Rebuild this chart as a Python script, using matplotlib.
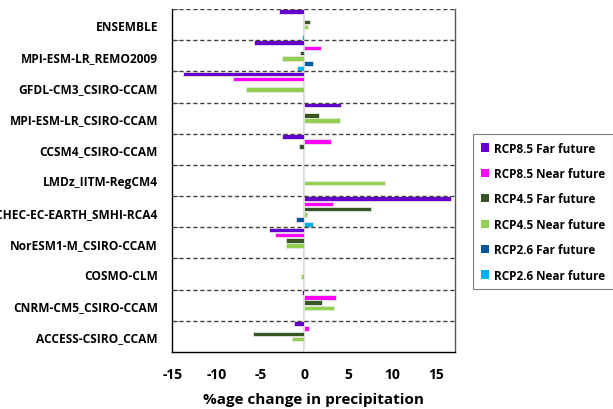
import numpy as np
import matplotlib.pyplot as plt
from matplotlib.patches import Patch

plt.rcParams['font.family'] = ['Open Sans', 'DejaVu Sans']
plt.rcParams['font.weight'] = 'bold'
plt.rcParams['axes.unicode_minus'] = False

# %% data (top to bottom)
models = [
    "ENSEMBLE",
    "MPI-ESM-LR_REMO2009",
    "GFDL-CM3_CSIRO-CCAM",
    "MPI-ESM-LR_CSIRO-CCAM",
    "CCSM4_CSIRO-CCAM",
    "LMDz_IITM-RegCM4",
    "ICHEC-EC-EARTH_SMHI-RCA4",
    "NorESM1-M_CSIRO-CCAM",
    "COSMO-CLM",
    "CNRM-CM5_CSIRO-CCAM",
    "ACCESS-CSIRO_CCAM",
]
rcp85_far = [-2.9, -5.7, -13.8, 4.2, -2.5, 0, 16.7, -4.0, 0, -0.25, -1.2]
rcp85_near = [-0.2, 1.9, -8.1, -0.2, 3.1, 0, 3.3, -3.4, 0, 3.6, 0.5]
rcp45_far = [0.6, -0.45, 0, 1.7, -0.6, 0, 7.6, -2.1, 0, 2.0, -5.9]
rcp45_near = [0.45, -2.5, -6.7, 4.1, 0, 9.2, 0.3, -2.1, -0.4, 3.4, -1.4]
rcp26_far = [0, 0.95, 0, 0, 0, 0, -0.9, 0, 0, 0, 0]
rcp26_near = [-0.3, -0.8, 0, 0, 0, 0, 0.95, 0, 0, 0, 0]

series = [
    ("RCP8.5 Far future", rcp85_far, "#6600CC"),
    ("RCP8.5 Near future", rcp85_near, "#FF00FF"),
    ("RCP4.5 Far future", rcp45_far, "#375623"),
    ("RCP4.5 Near future", rcp45_near, "#92D050"),
    ("RCP2.6 Far future", rcp26_far, "#005A9E"),
    ("RCP2.6 Near future", rcp26_near, "#00B0F0"),
]

# %% plot
fig = plt.figure(figsize=(6.13, 4.10), dpi=100)
ax = fig.add_axes([172 / 613, 1 - 353 / 410, (455 - 172) / 613, (353 - 10) / 410])

n = len(models)
slot = 1 / len(series)
for j, (name, vals, col) in enumerate(series):
    y = np.arange(n) + (j + 0.5) * slot
    ax.barh(y, vals, height=slot * 0.88, color=col,
            edgecolor="#e6e6e6", linewidth=0.6, zorder=3)

ax.axvline(0, color="#d9d9d9", lw=1.5, zorder=2)
for b in range(0, n):
    ax.axhline(b, color="#404040", lw=1.0, ls=(0, (3, 2)), zorder=4)

ax.set_ylim(n, 0)
ax.set_xlim(-15.1, 17.2)
ax.set_yticks(np.arange(n) + 0.5)
ax.set_yticklabels(models, fontsize=8.6, fontweight="bold")
ax.set_yticks(np.arange(n + 1), minor=True)
ax.tick_params(axis="y", which="major", length=0, pad=10)
ax.tick_params(axis="y", which="minor", length=4, direction="in", color="#404040")
ax.set_xticks([-15, -10, -5, 0, 5, 10, 15])
ax.tick_params(axis="x", length=0, labelsize=10, pad=11)
for lab in ax.get_xticklabels():
    lab.set_fontweight("bold")
ax.set_xlabel("%age change in precipitation", fontsize=11, fontweight="bold", labelpad=8)

ax.spines["top"].set_visible(False)
ax.spines["left"].set_color("black")
ax.spines["bottom"].set_color("black")
ax.spines["right"].set_color("#595959")
for s in ["left", "bottom", "right"]:
    ax.spines[s].set_linewidth(1.0)

handles = [Patch(facecolor=c, edgecolor="none", label=nm) for nm, _, c in series]
leg = fig.legend(handles=handles, loc="upper left",
                 bbox_to_anchor=(473 / 613, 1 - 135 / 410),
                 fontsize=8.5, frameon=True, fancybox=False,
                 handlelength=0.7, handleheight=0.7, handletextpad=0.4,
                 labelspacing=1.05, borderpad=0.65, borderaxespad=0)
leg.get_frame().set_edgecolor("#606060")
leg.get_frame().set_linewidth(0.8)
for t in leg.get_texts():
    t.set_fontweight("bold")

fig.savefig("out.png", dpi=100)
